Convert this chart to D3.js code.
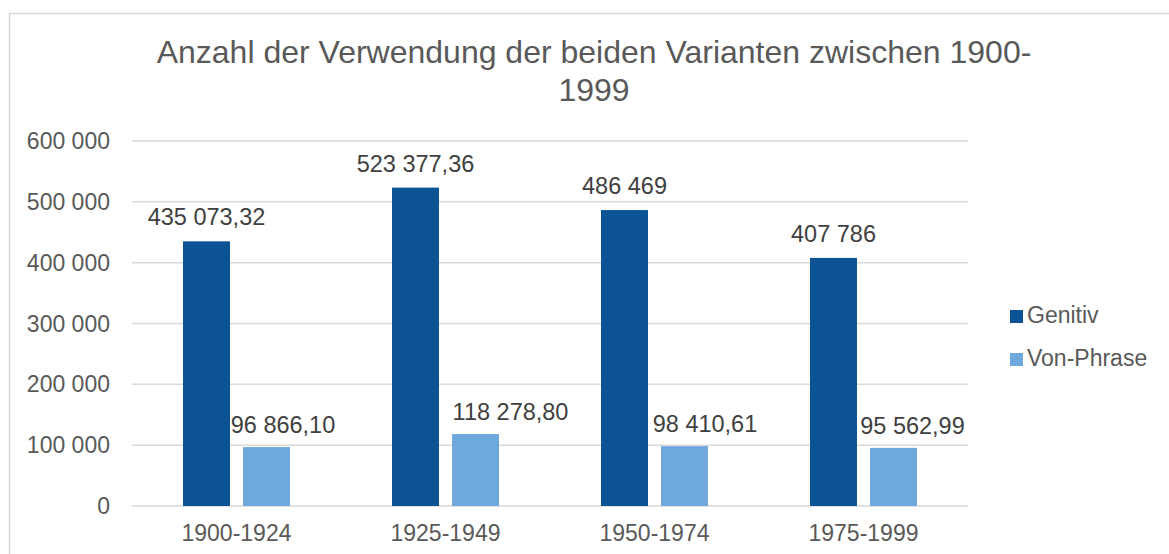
<!DOCTYPE html>
<html>
<head>
<meta charset="utf-8">
<script src="https://cdn.jsdelivr.net/npm/d3@7"></script>
<style>
  body { margin: 0; background: #fff; }
  text { font-family: "Liberation Sans", Arial, sans-serif; fill: #595959; }
</style>
</head>
<body>
<svg id="chart" width="1169" height="554"></svg>
<script>
const categories = ["1900-1924", "1925-1949", "1950-1974", "1975-1999"];
const genitiv = [435073.32, 523377.36, 486469, 407786];
const vonPhrase = [96866.10, 118278.80, 98410.61, 95562.99];
const genitivLabels = ["435 073,32", "523 377,36", "486 469", "407 786"];
const vonLabels = ["96 866,10", "118 278,80", "98 410,61", "95 562,99"];
const yTicks = [0, 100000, 200000, 300000, 400000, 500000, 600000];
const seriesNames = ["Genitiv", "Von-Phrase"];
const colors = ["#0b5394", "#6fa8dc"];

// labels were dragged a bit in the original (px)
const genitivNudge = [0, 0, 0, 0];
const vonNudge = [16.5, 35, 20.5, 19];

const svg = d3.select("#chart");

// chart frame
svg.append("rect")
    .attr("x", 9.5).attr("y", 13.5)
    .attr("width", 1200).attr("height", 600)
    .attr("fill", "none")
    .attr("stroke", "#d9d9d9")
    .attr("stroke-width", 1.5);

const plotLeft = 132, plotRight = 968, plotTop = 141, plotBottom = 506;

const y = d3.scaleLinear().domain([0, 600000]).range([plotBottom, plotTop]);
const x = d3.scaleBand().domain(categories).range([plotLeft, plotRight]);
const x1 = d3.scaleBand().domain(seriesNames).range([0, x.bandwidth()]).paddingInner(0.217).paddingOuter(0.85);

// title
const title = svg.append("text")
    .attr("text-anchor", "middle")
    .style("font-size", "32px");
title.append("tspan").attr("x", 594).attr("y", 63).text("Anzahl der Verwendung der beiden Varianten zwischen 1900-");
title.append("tspan").attr("x", 594).attr("y", 101).text("1999");

// gridlines
svg.selectAll(".grid")
    .data(yTicks)
    .enter().append("line")
    .attr("x1", plotLeft).attr("x2", plotRight)
    .attr("y1", d => y(d)).attr("y2", d => y(d))
    .attr("stroke", "#d9d9d9")
    .attr("stroke-width", 1.5);

// y labels
const fmt = v => d3.format(",")(v).replace(/,/g, " ");
svg.selectAll(".ylab")
    .data(yTicks)
    .enter().append("text")
    .attr("x", 110)
    .attr("y", d => y(d) + 8)
    .attr("text-anchor", "end")
    .style("font-size", "23px")
    .text(fmt);

// x labels
svg.selectAll(".xlab")
    .data(categories)
    .enter().append("text")
    .attr("x", d => x(d) + x.bandwidth() / 2)
    .attr("y", 541)
    .attr("text-anchor", "middle")
    .style("font-size", "23px")
    .text(d => d);

const series = [
    { name: "Genitiv", values: genitiv, labels: genitivLabels, nudge: genitivNudge, dy: -16 },
    { name: "Von-Phrase", values: vonPhrase, labels: vonLabels, nudge: vonNudge, dy: -14 }
];

series.forEach((s, si) => {
    const g = svg.append("g");
    g.selectAll("rect")
        .data(categories)
        .enter().append("rect")
        .attr("x", d => x(d) + x1(s.name))
        .attr("width", x1.bandwidth())
        .attr("y", (d, i) => y(s.values[i]))
        .attr("height", (d, i) => plotBottom - y(s.values[i]))
        .attr("fill", colors[si]);

    g.selectAll("text")
        .data(categories)
        .enter().append("text")
        .attr("x", (d, i) => x(d) + x1(s.name) + x1.bandwidth() / 2 + s.nudge[i])
        .attr("y", (d, i) => y(s.values[i]) + s.dy)
        .attr("text-anchor", "middle")
        .style("font-size", "23.5px")
        .style("fill", "#404040")
        .text((d, i) => s.labels[i]);
});

// legend
const legend = svg.append("g").attr("transform", "translate(1010,310)");
seriesNames.forEach((n, i) => {
    legend.append("rect")
        .attr("x", 0).attr("y", i * 43)
        .attr("width", 13).attr("height", 13)
        .attr("fill", colors[i]);
    legend.append("text")
        .attr("x", 17).attr("y", i * 43 + 13)
        .style("font-size", "23px")
        .text(n);
});
</script>
</body>
</html>
